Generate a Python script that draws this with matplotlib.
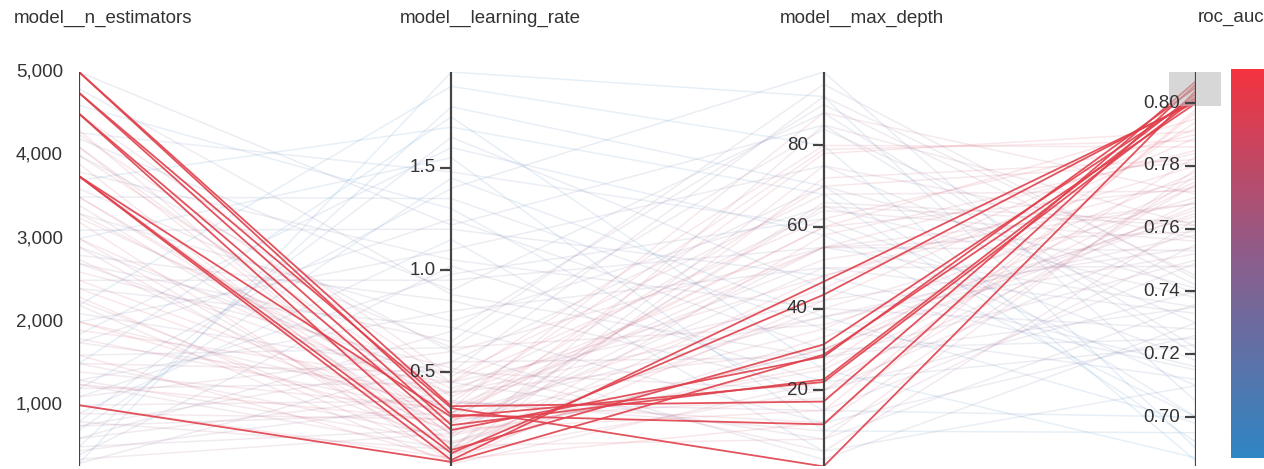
import numpy as np
import matplotlib
matplotlib.use("Agg")
import matplotlib.pyplot as plt
from matplotlib.colors import LinearSegmentedColormap

plt.rcParams['font.family'] = ['Liberation Sans', 'DejaVu Sans']

# ---------------- data ----------------
dimensions = ["model__n_estimators", "model__learning_rate", "model__max_depth", "roc_auc"]

n_estimators = [5000, 5000, 4750, 4750, 4500, 4500, 3750, 3750, 3750, 1000,
                # pink runs
                4250, 4000, 3500, 3500, 3250, 3000, 2750, 2500, 2250, 2000,
                2000, 1750, 1500, 1500, 1250, 1250, 1000, 1000, 750, 750,
                500, 3750, 4500, 2900, 1900, 1100, 3200, 2600, 4100, 1400,
                600, 3600, 2300, 900, 1600,
                4300, 4100, 3900, 3400, 3300, 3000, 2700, 2400, 2200, 1800,
                1300, 1200, 800, 450, 350,
                # blue runs
                5000, 4270, 300, 500, 800, 1200, 1750, 2000, 2500, 2800,
                3000, 3300, 3800, 4200, 4600, 600, 900, 1300, 1500, 2200,
                2700, 3500, 4000, 300, 1100, 1850, 2400, 3100, 4800, 700,
                1600, 3700, 2100, 400, 2900]
learning_rate = [0.29, 0.333, 0.324, 0.24, 0.216, 0.118, 0.28, 0.103, 0.069, 0.06,
                 0.45, 0.38, 0.30, 0.25, 0.42, 0.35, 0.20, 0.28, 0.15, 0.33,
                 0.22, 0.40, 0.18, 0.50, 0.26, 0.12, 0.36, 0.08, 0.30, 0.55,
                 0.22, 0.14, 0.48, 0.10, 0.45, 0.60, 0.06, 0.52, 0.19, 0.32,
                 0.40, 0.62, 0.09, 0.27, 0.07,
                 0.15, 0.30, 0.10, 0.20, 0.35, 0.12, 0.40, 0.25, 0.05, 0.30,
                 0.16, 0.45, 0.12, 0.35, 0.20,
                 1.22, 1.48, 1.97, 1.80, 1.65, 1.40, 1.25, 1.10, 0.95, 0.85,
                 1.55, 0.75, 1.05, 0.90, 1.30, 0.70, 1.15, 0.80, 1.75, 1.90,
                 0.65, 1.35, 0.60, 0.55, 0.98, 1.60, 0.72, 1.20, 0.88, 1.45,
                 0.62, 1.70, 0.50, 1.02, 0.45]
max_depth = [11.6, 17.2, 1.3, 22.6, 28.2, 31.2, 22.0, 43.4, 46.6, 28.7,
             62, 55, 70, 35, 48, 79, 25, 60, 40, 52,
             15, 30, 66, 20, 45, 75, 10, 58, 38, 28,
             50, 8, 68, 33, 80, 55, 42, 5, 26, 88,
             64, 36, 72, 18, 12,
             30, 55, 20, 65, 12, 48, 38, 78, 22, 60,
             30, 42, 85, 15, 55,
             85, 60, 92, 70, 45, 98, 30, 75, 55, 20,
             10, 65, 40, 88, 15, 90, 5, 50, 25, 80,
             95, 35, 3, 70, 62, 58, 12, 48, 28, 38,
             84, 68, 92, 22, 8]
roc_auc = [0.806, 0.807, 0.804, 0.803, 0.805, 0.802, 0.8015, 0.8008, 0.8003, 0.800,
           0.790, 0.785, 0.781, 0.778, 0.776, 0.788, 0.774, 0.795, 0.770, 0.768,
           0.797, 0.765, 0.762, 0.760, 0.792, 0.757, 0.755, 0.784, 0.752, 0.750,
           0.748, 0.779, 0.772, 0.766, 0.786, 0.759, 0.789, 0.763, 0.794, 0.771,
           0.756, 0.764, 0.782, 0.774, 0.798,
           0.775, 0.768, 0.783, 0.761, 0.777, 0.780, 0.758, 0.791, 0.769, 0.773,
           0.767, 0.754, 0.761, 0.749, 0.753,
           0.720, 0.710, 0.690, 0.700, 0.715, 0.705, 0.725, 0.730, 0.735, 0.740,
           0.695, 0.738, 0.728, 0.722, 0.700, 0.742, 0.710, 0.733, 0.687, 0.686,
           0.744, 0.712, 0.730, 0.741, 0.718, 0.700, 0.726, 0.716, 0.735, 0.698,
           0.739, 0.692, 0.745, 0.723, 0.736]

axis_ranges = [(270, 5000), (0.04, 1.97), (1.4, 98), (0.6844, 0.8099)]
axis_ticks = [[1000, 2000, 3000, 4000, 5000],
              [0.5, 1.0, 1.5],
              [20, 40, 60, 80],
              [0.70, 0.72, 0.74, 0.76, 0.78, 0.80]]
tick_labels = [["1,000", "2,000", "3,000", "4,000", "5,000"],
               ["0.5", "1.0", "1.5"],
               ["20", "40", "60", "80"],
               ["0.70", "0.72", "0.74", "0.76", "0.78", "0.80"]]
brush = (0.799, 0.8099)

# ---------------- figure ----------------
W, H = 1264, 469
fig = plt.figure(figsize=(W / 100, H / 100), dpi=100)

x0, x1 = 79, 1196
ytop, ybot = 72, 466
ax = fig.add_axes([x0 / W, (H - ybot) / H, (x1 - x0) / W, (ybot - ytop) / H])
ax.set_xlim(0, 3)
ax.set_ylim(0, 1)
ax.axis("off")

cmap = LinearSegmentedColormap.from_list("wb", ["#2f86c4", "#8a5f8e", "#f5333f"])
cmin, cmax = axis_ranges[3]

data = np.array([n_estimators, learning_rate, max_depth, roc_auc], dtype=float)
norm = np.array([(data[i] - lo) / (hi - lo) for i, (lo, hi) in enumerate(axis_ranges)])
xs = np.arange(4)

in_brush = (data[3] >= brush[0]) & (data[3] <= brush[1])

for j in range(data.shape[1]):
    if in_brush[j]:
        continue
    c = cmap((data[3, j] - cmin) / (cmax - cmin))
    ax.plot(xs, norm[:, j], color=c, alpha=0.12, lw=1.1, zorder=1)

for j in range(data.shape[1]):
    if not in_brush[j]:
        continue
    ax.plot(xs, norm[:, j], color="#e0404c", alpha=0.9, lw=1.3, zorder=3)

axis_col = "#444444"
px_x = (x1 - x0) / 3.0
for i in range(4):
    ax.plot([i, i], [0, 1], color=axis_col, lw=1.6, zorder=5, solid_capstyle="butt")
    lo, hi = axis_ranges[i]
    for t, lab in zip(axis_ticks[i], tick_labels[i]):
        yv = (t - lo) / (hi - lo)
        ax.plot([i - 11 / px_x, i], [yv, yv], color=axis_col, lw=1.6, zorder=5,
                solid_capstyle="butt")
        ax.text(i - 16 / px_x, yv, lab, ha="right", va="center", fontsize=13.5,
                color="#333333", zorder=6)

b0 = (brush[0] - cmin) / (cmax - cmin)
b1 = (brush[1] - cmin) / (cmax - cmin)
ax.add_patch(plt.Rectangle((3 - 27 / px_x, b0), 52 / px_x, b1 - b0,
                           facecolor="#bdbdbd", alpha=0.6, edgecolor="none",
                           zorder=4, clip_on=False))

title_x = [14, 400, 780, 1198]
for tx, name in zip(title_x, dimensions):
    fig.text(tx / W, (H - 18) / H, name, ha="left", va="center", fontsize=13.5,
             color="#333333")

cax = fig.add_axes([1231 / W, (H - 458) / H, 33 / W, (458 - 69) / H])
grad = np.linspace(1, 0, 256).reshape(-1, 1)
cax.imshow(grad, aspect="auto", cmap=cmap, extent=[0, 1, 0, 1])
cax.axis("off")

fig.savefig("out.png", dpi=100)
